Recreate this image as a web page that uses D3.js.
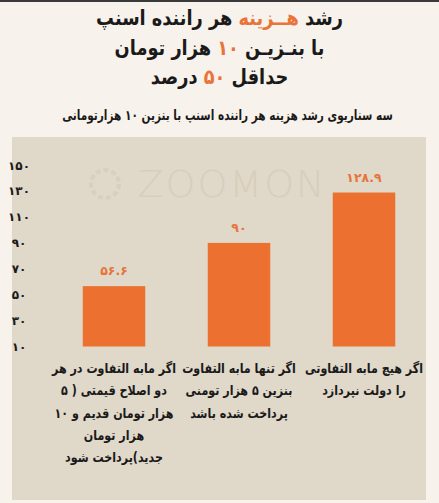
<!DOCTYPE html>
<html><head><meta charset="utf-8">
<script src="https://cdn.jsdelivr.net/npm/d3@7"></script>
<style>
html,body{margin:0;padding:0;background:#f8f2ec;}
svg{display:block;}
text{font-family:"DejaVu Sans",sans-serif;}
</style></head>
<body>
<script>
// ---- data ----
const categories = ["c3", "c2", "c1"]; // left to right on screen
const values = [56.6, 90, 128.9];
const valueLabels = ["۵۶.۶", "۹۰", "۱۲۸.۹"];
const categoryLines = [
  ["اگر مابه التفاوت در هر", "دو اصلاح قیمتی ( ۵", "هزار تومان قدیم و ۱۰", "هزار تومان", "جدید)پرداخت شود"],
  ["اگر تنها مابه التفاوت", "بنزین ۵ هزار تومنی", "پرداخت شده باشد"],
  ["اگر هیچ مابه التفاوتی", "را دولت نپردازد"]
];
const tickValues = [10, 30, 50, 70, 90, 110, 130, 150];
const titleLines = [
  [["رشد ", false], ["هــزینه", true], [" هر راننده اسنپ", false]],
  [["با بنـزیـن ", false], ["۱۰", true], [" هزار تومان", false]],
  [["حداقل ", false], ["۵۰", true], [" درصد", false]]
];
const subtitle = "سه سناریوی رشد هزینه هر راننده اسنپ با بنزین ۱۰ هزارتومانی";

const W = 439, H = 503;
const toFa = s => String(s).replace(/[0-9]/g, d => "۰۱۲۳۴۵۶۷۸۹"[d]);

const svg = d3.select("body").append("svg").attr("width", W).attr("height", H);
svg.append("rect").attr("width", W).attr("height", H).attr("fill", "#f8f2ec");
svg.append("rect").attr("width", W).attr("height", 2).attr("fill", "#3a3a3a");

// condensed text helper: text at (cx, y) with horizontal scale sx
function ctext(parent, cx, y, size) {
  return parent.append("text").attr("x", 0).attr("y", 0)
    .attr("data-cx", cx).attr("data-cy", y)
    .attr("text-anchor", "middle").attr("direction", "rtl")
    .attr("font-size", size).attr("font-weight", "bold").attr("fill", "#1a1a1a");
}
function applyScale(t, sx) {
  t.attr("transform", `translate(${t.attr("data-cx")},${t.attr("data-cy")}) scale(${sx},1)`);
}
const widthOf = t => t.node().getComputedTextLength();

// title
const orange = "#e8743a";
const titles = titleLines.map((parts, i) => {
  const t = ctext(svg, W / 2, 25 + i * 29.5, 21);
  parts.forEach(p => t.append("tspan").text(p[0]).attr("fill", p[1] ? orange : "#1a1a1a"));
  return t;
});
const tsx = 247 / widthOf(titles[0]);
titles.forEach(t => applyScale(t, tsx));

const sub = ctext(svg, 227.5, 120, 14).text(subtitle);
applyScale(sub, 331 / widthOf(sub));

// panel
svg.append("rect").attr("x", 12).attr("y", 137).attr("width", 414).attr("height", 363).attr("fill", "#e0d8c9");

// watermark
svg.append("text").attr("x", 232).attr("y", 197).attr("text-anchor", "middle")
  .attr("font-family", "Lato, sans-serif").attr("font-weight", 300).attr("font-size", 38)
  .attr("fill", "#d8cebd").attr("letter-spacing", 2).text("ZOOMON");
svg.append("circle").attr("cx", 105).attr("cy", 184).attr("r", 14).attr("fill", "none")
  .attr("stroke", "#d9cfbd").attr("stroke-width", 4).attr("stroke-dasharray", "5 3");

// scales
const y = d3.scaleLinear().domain([10, 150]).range([346.5, 165.2]);
const x = d3.scaleBand().domain(categories).range([51.5, 426.5]).paddingInner(0.5).paddingOuter(0.25);

// axis
const ax = svg.append("g").attr("transform", "translate(19,0)")
  .call(d3.axisLeft(y).tickValues(tickValues).tickSize(0).tickFormat(d => toFa(d)));
ax.select(".domain").remove();
ax.selectAll("text").attr("x", 0).attr("text-anchor", "middle")
  .attr("font-family", "DejaVu Sans, sans-serif").attr("font-size", 12)
  .attr("font-weight", "bold").attr("fill", "#1a1a1a");

// bars
svg.selectAll("rect.bar").data(values).join("rect").attr("class", "bar")
  .attr("x", (d, i) => x(categories[i])).attr("width", x.bandwidth())
  .attr("y", d => y(d)).attr("height", d => y(10) - y(d)).attr("fill", "#ec7130");

svg.selectAll("text.val").data(values).join("text").attr("class", "val")
  .attr("x", (d, i) => x(categories[i]) + x.bandwidth() / 2).attr("y", d => y(d) - 11)
  .attr("text-anchor", "middle").attr("font-size", 12.5).attr("font-weight", "bold")
  .attr("fill", orange).text((d, i) => valueLabels[i]);

// category labels
const catTexts = [];
categoryLines.forEach((lines, i) => {
  const cx = x(categories[i]) + x.bandwidth() / 2;
  lines.forEach((ln, j) => {
    catTexts.push(ctext(svg, cx, 373 + j * 22.3, 13.5).text(ln));
  });
});
const csx = 118 / widthOf(catTexts[catTexts.length - 2]);
catTexts.forEach(t => applyScale(t, csx));
</script>
</body></html>
